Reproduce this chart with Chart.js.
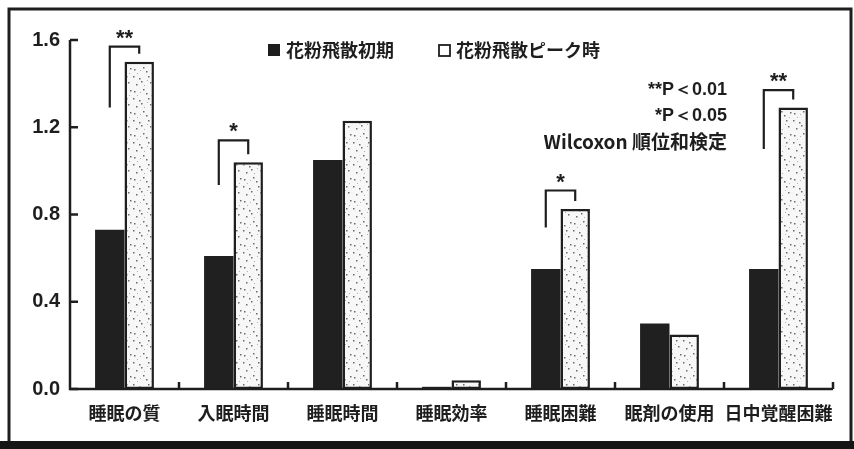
<!DOCTYPE html>
<html>
<head>
<meta charset="utf-8">
<script src="https://cdn.jsdelivr.net/npm/chart.js@4.4.1/dist/chart.umd.min.js"></script>
<style>
  html, body { margin: 0; padding: 0; background: #fff; }
  canvas { display: block; }
</style>
</head>
<body>
<canvas id="chart" width="854" height="449"></canvas>
<script>
// sleep questionnaire scores, early pollen season vs peak
const categories = ["睡眠の質", "入眠時間", "睡眠時間", "睡眠効率", "睡眠困難", "眠剤の使用", "日中覚醒困難"];
const seriesNames = ["花粉飛散初期", "花粉飛散ピーク時"];
const earlyValues = [0.73, 0.61, 1.05, 0.01, 0.55, 0.30, 0.55];
const peakValues = [1.50, 1.04, 1.23, 0.04, 0.825, 0.25, 1.29];
const yTicks = [0, 0.4, 0.8, 1.2, 1.6];

// significance brackets per category (null = none)
const sigMarks = ["**", "*", null, null, "*", null, "**"];
const bracketTop = [1.57, 1.14, null, null, 0.91, null, 1.37];
const bracketLeftEnd = [1.29, 0.935, null, null, 0.74, null, 1.10];
const noteLines = ["**P＜0.01", "*P＜0.05", "Wilcoxon 順位和検定"];

const INK = "#1e1e1e";
const LATIN = "'Liberation Sans', Arial, sans-serif";
const CJK = "'Noto Sans CJK JP', 'Liberation Sans', sans-serif";

// dotted fill for the peak bars
function speckle() {
  const c = document.createElement("canvas");
  c.width = 22; c.height = 22;
  const g = c.getContext("2d");
  g.fillStyle = "#f7f7f7";
  g.fillRect(0, 0, 22, 22);
  g.fillStyle = "#6a6a6a";
  [[2, 3], [7, 12], [14, 5], [18, 16], [4, 18], [11, 1], [16, 10], [9, 15], [20, 2], [1, 10]]
    .forEach(([x, y]) => g.fillRect(x, y, 1.5, 1.5));
  g.fillStyle = "#b0b0b0";
  [[5, 7], [12, 19], [19, 7], [8, 4], [15, 14]].forEach(([x, y]) => g.fillRect(x, y, 1, 1));
  return g.createPattern(c, "repeat");
}

const decorations = {
  id: "decorations",
  beforeDraw(chart) {
    const ctx = chart.ctx;
    ctx.save();
    ctx.fillStyle = "#fff";
    ctx.fillRect(0, 0, chart.width, chart.height);
    // outer frame
    ctx.strokeStyle = INK;
    ctx.lineWidth = 3;
    ctx.beginPath();
    ctx.moveTo(9, 442);
    ctx.lineTo(9, 9);
    ctx.lineTo(851, 9);
    ctx.lineTo(851, 442);
    ctx.stroke();
    ctx.fillStyle = "#151515";
    ctx.fillRect(0, 441, chart.width, 8);
    ctx.restore();
  },
  afterDatasetsDraw(chart) {
    const ctx = chart.ctx;
    const { left, right } = chart.chartArea;
    const x = chart.scales.x, y = chart.scales.y;
    const y0 = y.getPixelForValue(0);
    ctx.save();
    ctx.strokeStyle = INK;
    ctx.lineWidth = 2.5;

    // axes
    ctx.beginPath();
    ctx.moveTo(left, y.getPixelForValue(yTicks[yTicks.length - 1]));
    ctx.lineTo(left, y0);
    ctx.lineTo(right, y0);
    ctx.stroke();

    // inward y ticks
    yTicks.forEach(v => {
      const py = y.getPixelForValue(v);
      ctx.beginPath();
      ctx.moveTo(left, py);
      ctx.lineTo(left + 8, py);
      ctx.stroke();
    });

    // upward ticks between categories
    const step = x.getPixelForValue(1) - x.getPixelForValue(0);
    categories.forEach((_, i) => {
      const px = x.getPixelForValue(i) + step / 2;
      ctx.beginPath();
      ctx.moveTo(px, y0);
      ctx.lineTo(px, y0 - 7);
      ctx.stroke();
    });

    // significance brackets
    const early = chart.getDatasetMeta(0).data;
    const peak = chart.getDatasetMeta(1).data;
    ctx.lineWidth = 2.2;
    ctx.fillStyle = INK;
    ctx.textAlign = "center";
    ctx.textBaseline = "middle";
    ctx.font = "bold 22px " + LATIN;
    sigMarks.forEach((mark, i) => {
      if (!mark) return;
      const lx = early[i].x, rx = peak[i].x;
      const top = y.getPixelForValue(bracketTop[i]);
      ctx.beginPath();
      ctx.moveTo(lx, y.getPixelForValue(bracketLeftEnd[i]));
      ctx.lineTo(lx, top);
      ctx.lineTo(rx, top);
      ctx.lineTo(rx, y.getPixelForValue(peakValues[i]) - 8);
      ctx.stroke();
      ctx.fillText(mark, (lx + rx) / 2, top - 8);
    });

    // legend
    ctx.textAlign = "left";
    ctx.font = "bold 18px " + CJK;
    ctx.fillStyle = INK;
    ctx.fillRect(268, 44, 12, 12);
    ctx.fillText(seriesNames[0], 286, 50);
    ctx.lineWidth = 1.8;
    ctx.strokeRect(439, 45, 11, 11);
    ctx.fillText(seriesNames[1], 456, 50);

    // test notes
    ctx.textAlign = "right";
    ctx.font = "bold 18px " + LATIN;
    ctx.fillText(noteLines[0], 727, 90);
    ctx.fillText(noteLines[1], 727, 116);
    ctx.font = "bold 19px " + CJK;
    ctx.fillText(noteLines[2], 727, 142);
    ctx.restore();
  }
};

new Chart(document.getElementById("chart"), {
  type: "bar",
  data: {
    labels: categories,
    datasets: [
      {
        label: seriesNames[0],
        data: earlyValues,
        backgroundColor: "#202020",
        borderWidth: 0
      },
      {
        label: seriesNames[1],
        data: peakValues,
        backgroundColor: speckle(),
        borderColor: INK,
        borderWidth: 2.5,
        borderSkipped: false
      }
    ]
  },
  options: {
    responsive: false,
    animation: false,
    events: [],
    layout: { padding: { left: 0, top: 40, right: 21, bottom: 0 } },
    plugins: { legend: { display: false }, tooltip: { enabled: false } },
    datasets: { bar: { categoryPercentage: 0.54, barPercentage: 1.0 } },
    scales: {
      x: {
        grid: { display: false, drawTicks: false },
        border: { display: false },
        ticks: {
          color: INK,
          padding: 13,
          maxRotation: 0,
          autoSkip: false,
          font: { family: CJK, weight: "bold", size: 18 }
        },
        afterFit(scale) { scale.height = 60; }
      },
      y: {
        min: 0,
        max: 1.6,
        grid: { display: false, drawTicks: false },
        border: { display: false },
        afterBuildTicks(scale) { scale.ticks = yTicks.map(v => ({ value: v })); },
        ticks: {
          color: INK,
          padding: 10,
          font: { family: LATIN, weight: "bold", size: 20 },
          callback: v => v.toFixed(1)
        },
        afterFit(scale) { scale.width = 70; }
      }
    }
  },
  plugins: [decorations]
});
</script>
</body>
</html>
